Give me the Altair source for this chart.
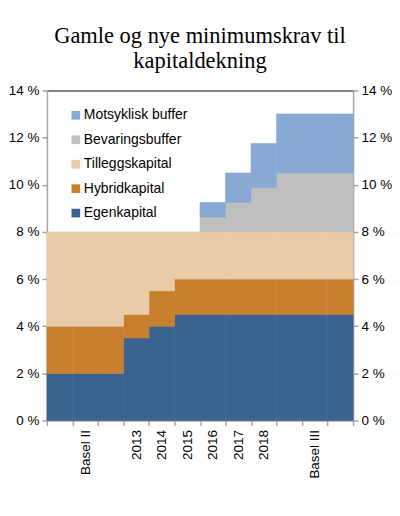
import altair as alt
import pandas as pd

labels = ["", "Basel II", "", "2013", "2014", "2015", "2016", "2017", "2018", "", "Basel III", ""]
egenkapital = [2, 2, 2, 3.5, 4, 4.5, 4.5, 4.5, 4.5, 4.5, 4.5, 4.5]
hybridkapital = [2, 2, 2, 1, 1.5, 1.5, 1.5, 1.5, 1.5, 1.5, 1.5, 1.5]
tilleggskapital = [4, 4, 4, 3.5, 2.5, 2, 2, 2, 2, 2, 2, 2]
bevaringsbuffer = [0, 0, 0, 0, 0, 0, 0.625, 1.25, 1.875, 2.5, 2.5, 2.5]
motsyklisk = [0, 0, 0, 0, 0, 0, 0.625, 1.25, 1.875, 2.5, 2.5, 2.5]

series = ["Egenkapital", "Hybridkapital", "Tilleggskapital", "Bevaringsbuffer", "Motsyklisk buffer"]
values = [egenkapital, hybridkapital, tilleggskapital, bevaringsbuffer, motsyklisk]
colors = {"Motsyklisk buffer": "#88A9D4", "Bevaringsbuffer": "#BFBFBF",
          "Tilleggskapital": "#EACBA8", "Hybridkapital": "#C8802F", "Egenkapital": "#3B6391"}

rows = []
for si, (name, vals) in enumerate(zip(series, values)):
    for i, v in enumerate(vals):
        rows.append({"i": i, "serie": name, "ord": si, "v": v})
df = pd.DataFrame(rows)

legend_order = ["Motsyklisk buffer", "Bevaringsbuffer", "Tilleggskapital", "Hybridkapital", "Egenkapital"]
color_scale = alt.Scale(domain=legend_order, range=[colors[k] for k in legend_order])

label_js = "[" + ",".join("'" + l + "'" for l in labels) + "][datum.value]"

FS = 13.5
ydom = alt.Scale(domain=[0, 14])
xscale = alt.Scale(paddingInner=0, paddingOuter=0)
yaxis_common = dict(values=[0, 2, 4, 6, 8, 10, 12, 14], labelExpr="datum.value + ' %'",
                    grid=False, domainColor="#A6A6A6", domainWidth=1.5, tickColor="#A6A6A6",
                    tickWidth=1.5, tickSize=5, labelFontSize=FS, labelColor="#000000",
                    labelFont="Liberation Sans", labelPadding=3, title=None)

xenc = alt.X("i:O", scale=xscale,
             axis=alt.Axis(labelExpr=label_js, labelAngle=-90, tickBand="extent",
                           labelFontSize=FS, labelFont="Liberation Sans", labelColor="#000000",
                           domainColor="#A6A6A6", domainWidth=1.5, tickColor="#A6A6A6",
                           tickWidth=1.5, tickSize=5, labelPadding=4, title=None))

bars = alt.Chart(df).transform_filter("datum.v > 0").mark_bar(strokeWidth=0.6).encode(
    x=xenc,
    y=alt.Y("v:Q", stack="zero", scale=ydom, axis=alt.Axis(orient="left", **yaxis_common)),
    color=alt.Color("serie:N", scale=color_scale, sort=legend_order,
                    legend=alt.Legend(title=None, orient="none", legendX=22, legendY=18,
                                      symbolType="square", symbolSize=75, symbolStrokeWidth=0,
                                      labelFontSize=14, labelFont="Liberation Sans",
                                      labelColor="#000000", rowPadding=10.5, labelOffset=1)),
    stroke=alt.Stroke("serie:N", scale=color_scale, legend=None),
    order=alt.Order("ord:Q"),
)

# invisible layer carrying the top frame line (as a top x axis) and the right y axis
frame = alt.Chart(pd.DataFrame({"i": list(range(len(labels))), "y": [0] * len(labels)})).mark_point(opacity=0).encode(
    x=alt.X("i:O", scale=xscale,
            axis=alt.Axis(orient="top", labels=False, ticks=False, title=None,
                          domainColor="#595959", domainWidth=1.5)),
    y=alt.Y("y:Q", scale=ydom, axis=alt.Axis(orient="right", **yaxis_common)),
)

chart = alt.layer(bars, frame).resolve_scale(y="shared", x="shared").resolve_axis(
    y="independent", x="independent").properties(
    width=307, height=331,
    padding={"left": 0, "top": 16, "right": 0, "bottom": 0},
    title=alt.Title(["Gamle og nye minimumskrav til", "kapitaldekning"], font="Liberation Serif",
                    fontSize=22.5, fontWeight="normal", color="#000000", lineHeight=25, offset=11,
                    anchor="middle"),
).configure_view(stroke=None)

chart.save("out.html", embed_options={"renderer": "svg", "actions": False})
